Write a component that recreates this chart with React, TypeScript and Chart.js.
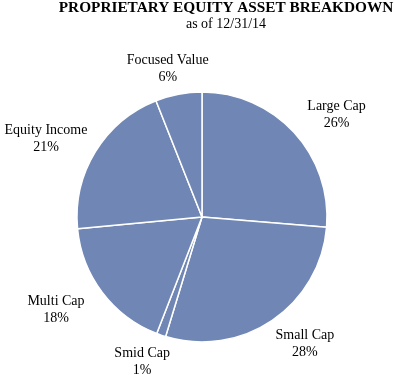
import React, { useEffect, useRef } from 'react';
import { Chart, registerables } from 'chart.js';

Chart.register(...registerables);

const TITLE = 'PROPRIETARY EQUITY ASSET BREAKDOWN';
const SUBTITLE = 'as of 12/31/14';
const categories = ['Large Cap', 'Small Cap', 'Smid Cap', 'Multi Cap', 'Equity Income', 'Focused Value'];
const values = [26.3, 28.4, 1.2, 17.6, 20.5, 6.0];

const FILL = '#7086b4';
const FONT = '"Liberation Serif", "Times New Roman", serif';

const labelPlugin = {
  id: 'sliceLabels',
  afterDraw(chart: any) {
    const ctx = chart.ctx as CanvasRenderingContext2D;
    ctx.save();
    ctx.fillStyle = '#000000';
    // Title
    ctx.textAlign = 'center';
    ctx.textBaseline = 'alphabetic';
    ctx.font = `bold 15.3px ${FONT}`;
    ctx.fillText(TITLE, 226, 12);
    ctx.font = `14px ${FONT}`;
    ctx.fillText(SUBTITLE, 226, 28);

    const total = values.reduce((a, b) => a + b, 0);
    const meta = chart.getDatasetMeta(0);
    meta.data.forEach((arc: any, i: number) => {
      const p = arc.getProps(['startAngle', 'endAngle', 'outerRadius', 'x', 'y'], true);
      const mid = (p.startAngle + p.endAngle) / 2;
      const dx = Math.cos(mid);
      const dy = Math.sin(mid);
      const lines = [categories[i], Math.round((values[i] / total) * 100) + '%'];
      // labels sit on an ellipse around the pie (wider than tall)
      const cx = p.x + dx * (p.outerRadius + 58);
      const cy = p.y + dy * (p.outerRadius + 27);
      ctx.fillText(lines[0], cx, cy - 3.5);
      ctx.fillText(lines[1], cx, cy + 13);
    });
    ctx.restore();
  },
};

export default function App() {
  const ref = useRef<HTMLCanvasElement>(null);
  useEffect(() => {
    if (!ref.current) return;
    const chart = new Chart(ref.current, {
      type: 'pie',
      data: {
        labels: categories,
        datasets: [
          {
            data: values,
            backgroundColor: FILL,
            borderColor: '#ffffff',
            borderWidth: 1.5,
            radius: 125,
          } as any,
        ],
      },
      options: {
        responsive: false,
        animation: false,
        layout: { padding: { left: 76, right: 66, top: 91, bottom: 32 } },
        plugins: {
          legend: { display: false },
          tooltip: { enabled: false },
          title: { display: false },
        },
      },
      plugins: [labelPlugin],
    });
    return () => chart.destroy();
  }, []);
  return (
    <div style={{ position: 'fixed', left: 0, top: 0, width: 394, height: 375, background: '#fff' }}>
      <canvas ref={ref} width={394} height={375} style={{ width: 394, height: 375, display: 'block' }} />
    </div>
  );
}
